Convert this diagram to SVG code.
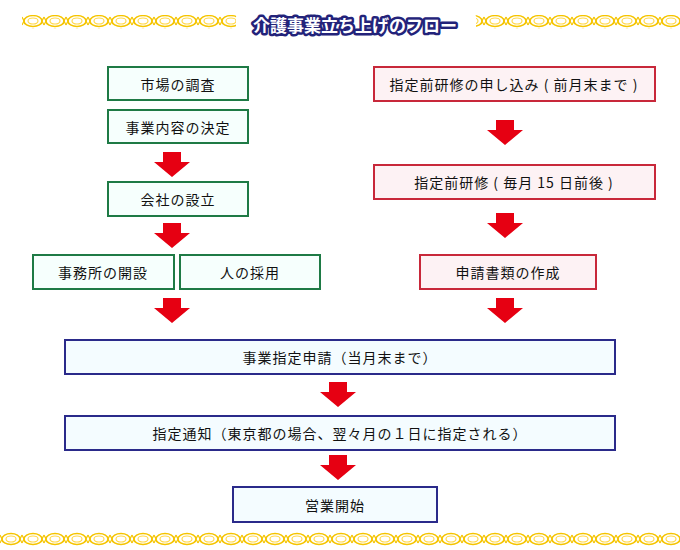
<svg xmlns="http://www.w3.org/2000/svg" width="680" height="550" viewBox="0 0 680 550">
<style>
text{font-family:"Noto Sans CJK JP","Noto Sans CJK SC",sans-serif;font-size:14px;letter-spacing:1px;fill:#111;text-anchor:middle;dominant-baseline:central}
.g{fill:#f6fffd;stroke:#1e7a45;stroke-width:2}
.r{fill:#fdf2f4;stroke:#c8283a;stroke-width:2}
.b{fill:#f4fcff;stroke:#2a2a8a;stroke-width:2}
.title{font-size:17px;letter-spacing:0;font-weight:bold;fill:#fff;stroke:#23237a;stroke-width:5;paint-order:stroke;stroke-linejoin:round}
</style>
<defs>
<path id="ar" d="M-9,0 H9 V10 H18 L0,25 L-18,10 H-9 Z" fill="#e60012"/>
<pattern id="chain" x="0" y="0" width="22" height="14" patternUnits="userSpaceOnUse">
<ellipse cx="11" cy="7" rx="9" ry="5.5" fill="none" stroke="#f5c400" stroke-width="1.6"/>
<ellipse cx="11" cy="7" rx="5" ry="3" fill="none" stroke="#ffd84a" stroke-width="1.2"/>
<path d="M0,3 L2,7 L0,11 M22,3 L20,7 L22,11" stroke="#f5c400" stroke-width="1.2" fill="none"/>
</pattern>
</defs>
<g id="borders">
<rect x="22" y="15" width="658" height="14" fill="url(#chain)"/>
<rect x="0" y="532" width="680" height="14" fill="url(#chain)"/>
</g>
<g id="title">
<rect x="236" y="11" width="240" height="26" rx="6" fill="#fff"/>
<text class="title" x="355" y="24">介護事業立ち上げのフロー</text>
</g>
<g id="connectors">
<use href="#ar" x="172" y="152"/>
<use href="#ar" x="172" y="223"/>
<use href="#ar" x="172" y="298"/>
<use href="#ar" x="505" y="120"/>
<use href="#ar" x="505" y="213"/>
<use href="#ar" x="505" y="298"/>
<use href="#ar" x="338" y="382"/>
<use href="#ar" x="338" y="455"/>
</g>
<g id="n1"><rect class="g" x="108" y="67" width="140" height="33"/><text x="178" y="84">市場の調査</text></g>
<g id="n2"><rect class="g" x="108" y="110" width="140" height="33"/><text x="178" y="127">事業内容の決定</text></g>
<g id="n3"><rect class="g" x="108" y="182" width="140" height="34"/><text x="178" y="199">会社の設立</text></g>
<g id="n4"><rect class="g" x="33" y="255" width="141" height="34"/><text x="103" y="272">事務所の開設</text></g>
<g id="n5"><rect class="g" x="180" y="255" width="140" height="34"/><text x="250" y="272">人の採用</text></g>
<g id="r1"><rect class="r" x="374" y="67" width="281" height="34"/><text x="514" y="84">指定前研修の申し込み ( 前月末まで )</text></g>
<g id="r2"><rect class="r" x="374" y="165" width="281" height="34"/><text x="514" y="182">指定前研修 ( 毎月 15 日前後 )</text></g>
<g id="r3"><rect class="r" x="420" y="255" width="176" height="34"/><text x="508" y="272">申請書類の作成</text></g>
<g id="b1"><rect class="b" x="65" y="340" width="550" height="34"/><text x="340" y="357">事業指定申請（当月末まで）</text></g>
<g id="b2"><rect class="b" x="65" y="416" width="550" height="34"/><text x="340" y="433">指定通知（東京都の場合、翌々月の１日に指定される）</text></g>
<g id="b3"><rect class="b" x="233" y="487" width="204" height="35"/><text x="335" y="505">営業開始</text></g>
</svg>
